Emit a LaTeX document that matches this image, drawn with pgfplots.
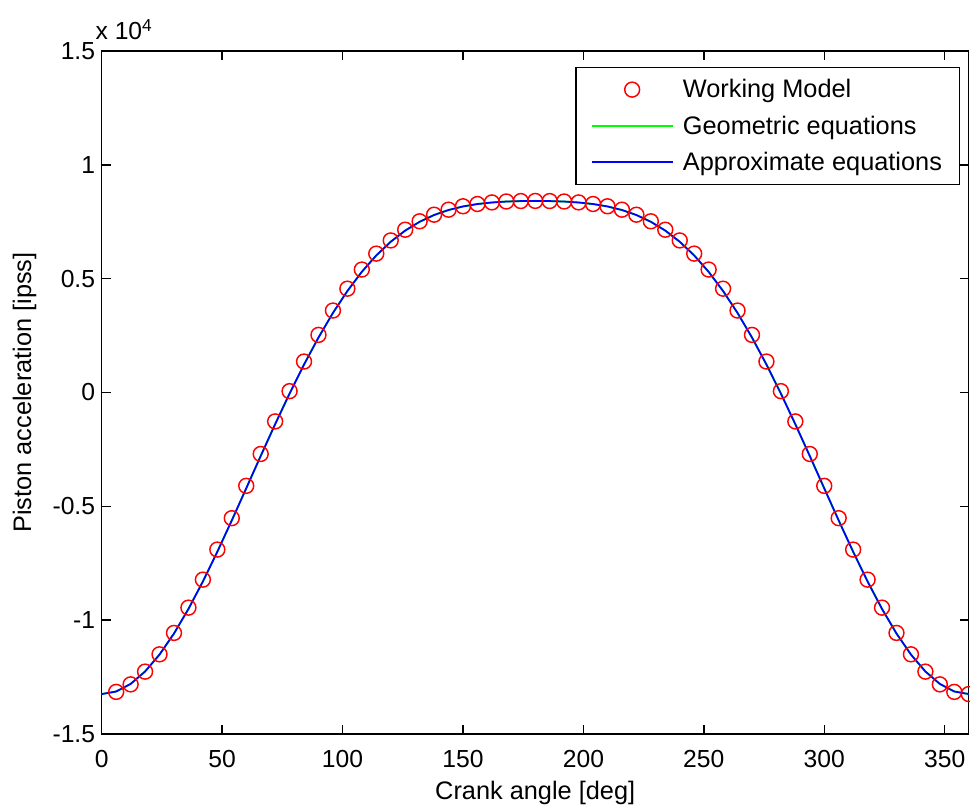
\documentclass[border=0pt]{standalone}
\usepackage{pgfplots}
\pgfplotsset{compat=1.18}
\usepackage{pgfplotstable}
\usepackage{fontspec}
\setmainfont{Liberation Sans}
\definecolor{mgreen}{RGB}{0,255,0}
\definecolor{mblue}{RGB}{0,0,255}
\definecolor{mred}{RGB}{255,0,0}
\pgfplotstableread{
theta acc
0 -13245
6 -13133
12 -12800
18 -12254
24 -11510
30 -10586
36 -9508
42 -8301
48 -6994
54 -5620
60 -4208
66 -2789
72 -1393
78 -46
84 1230
90 2415
96 3495
102 4458
108 5301
114 6021
120 6622
126 7112
132 7499
138 7796
144 8016
150 8172
156 8278
162 8346
168 8388
174 8408
180 8415
186 8408
192 8388
198 8346
204 8278
210 8172
216 8016
222 7796
228 7499
234 7112
240 6622
246 6021
252 5301
258 4458
264 3495
270 2415
276 1230
282 -46
288 -1393
294 -2789
300 -4208
306 -5620
312 -6994
318 -8301
324 -9508
330 -10586
336 -11510
342 -12254
348 -12800
354 -13133
360 -13245
}\linedata
\pgfplotstableread{
theta acc
6 -13150
12 -12820
18 -12260
24 -11500
30 -10560
36 -9450
42 -8220
48 -6900
54 -5520
60 -4100
66 -2700
72 -1270
78 60
84 1360
90 2530
96 3600
102 4560
108 5400
114 6100
120 6680
126 7150
132 7520
138 7810
144 8030
150 8180
156 8280
162 8350
168 8390
174 8410
180 8415
186 8410
192 8390
198 8350
204 8280
210 8180
216 8030
222 7810
228 7520
234 7150
240 6680
246 6100
252 5400
258 4560
264 3600
270 2530
276 1360
282 60
288 -1270
294 -2700
300 -4100
306 -5520
312 -6900
318 -8220
324 -9450
330 -10560
336 -11500
342 -12260
348 -12820
354 -13150
360 -13245
}\markdata
\begin{document}
\begin{tikzpicture}
\path[use as bounding box] (-76.3pt,-57.75pt) rectangle (651.2pt,550.5pt);
\begin{axis}[
  scale only axis,
  width=650.25pt, height=512.25pt,
  at={(0pt,0pt)}, anchor=south west,
  xmin=0, xmax=360, ymin=-15000, ymax=15000,
  xtick={0,50,...,350},
  ytick={-15000,-10000,-5000,0,5000,10000,15000},
  scaled y ticks=base 10:-4,
  ytick scale label code/.code={x 10\textsuperscript{4}},
  every y tick scale label/.style={at={(rel axis cs:0,1)}, anchor=base west, inner sep=0pt, yshift=8.25pt, font=\fontsize{18.5}{22}\selectfont},
  /pgf/number format/assume math mode=true,
  yticklabel style={/pgf/number format/fixed, /pgf/number format/precision=1, anchor=east, inner sep=0pt, xshift=-4.8pt},
  xticklabel style={anchor=base, inner sep=0pt, yshift=-24.75pt},
  tick align=inside,
  major tick length=6.75pt,
  axis line style={line width=1.1pt},
  every tick/.style={line width=1.1pt, black},
  tick label style={font=\fontsize{18.5}{22}\selectfont},
  label style={font=\fontsize{19}{23}\selectfont},
  xlabel={Crank angle [deg]},
  ylabel={Piston acceleration [ipss]},
  xlabel style={at={(axis description cs:0.5,-0.0966)}, anchor=base},
  ylabel style={at={(axis description cs:-0.0815,0.5)}, anchor=base},
  legend image code/.code={\draw[mark repeat=2,mark phase=2,#1] plot coordinates {(0pt,0pt) (30.4pt,0pt) (60.75pt,0pt)};},
  legend style={at={(axis description cs:0.990,0.977)}, anchor=north east, draw=black, line width=1.1pt,
    font=\fontsize{19}{23}\selectfont, cells={anchor=west, text depth=1pt}, row sep=8pt, column sep=5pt, inner xsep=11pt, inner ysep=7pt},
  legend cell align=left,
  clip=false,
]
\addplot[only marks, mark=o, mark size=5.6pt, color=mred, line width=1.1pt] table[x=theta,y=acc] {\markdata};
\addlegendentry{Working Model}
\addplot[no marks, line width=1.4pt, color=mgreen] table[x=theta,y=acc] {\linedata};
\addlegendentry{Geometric equations}
\addplot[no marks, line width=1.3pt, color=mblue] table[x=theta,y=acc] {\linedata};
\addlegendentry{Approximate equations}
\end{axis}
\end{tikzpicture}
\end{document}
